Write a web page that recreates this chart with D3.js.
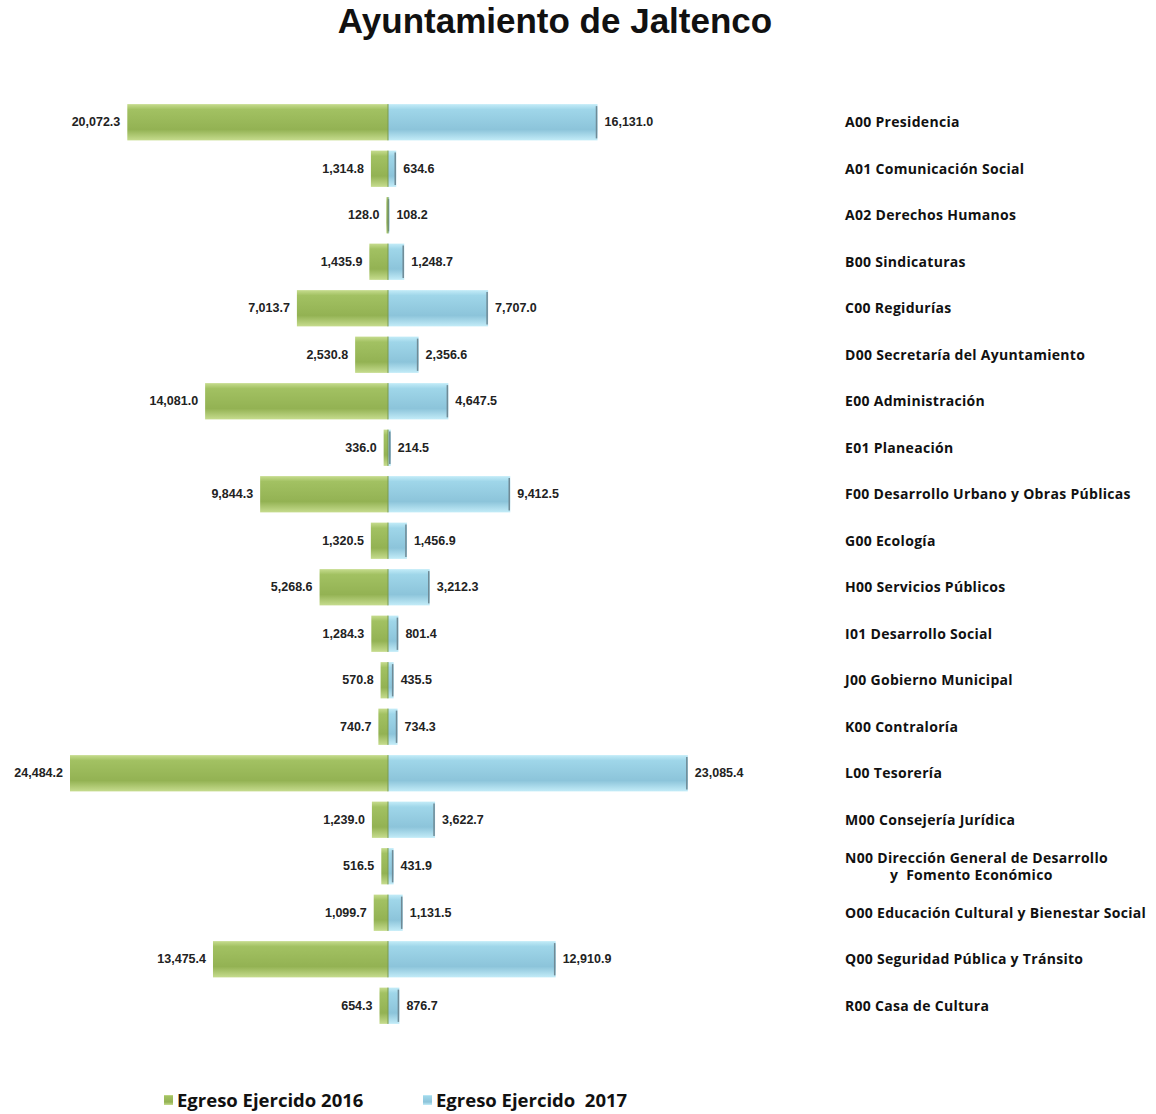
<!DOCTYPE html>
<html>
<head>
<meta charset="utf-8">
<script src="https://cdn.jsdelivr.net/npm/d3@7"></script>
<style>
  body { margin: 0; background: #fff; }
  svg { display: block; }
</style>
</head>
<body>
<div id="chart"></div>
<script>
// areas (second line only for the long N00 label)
var areas = [
  "A00 Presidencia", "A01 Comunicación Social", "A02 Derechos Humanos", "B00 Sindicaturas",
  "C00 Regidurías", "D00 Secretaría del Ayuntamiento", "E00 Administración", "E01 Planeación",
  "F00 Desarrollo Urbano y Obras Públicas", "G00 Ecología", "H00 Servicios Públicos",
  "I01 Desarrollo Social", "J00 Gobierno Municipal", "K00 Contraloría", "L00 Tesorería",
  "M00 Consejería Jurídica", "N00 Dirección General de Desarrollo|y  Fomento Económico",
  "O00 Educación Cultural y Bienestar Social", "Q00 Seguridad Pública y Tránsito", "R00 Casa de Cultura"
];
var egreso2016 = [20072.3, 1314.8, 128.0, 1435.9, 7013.7, 2530.8, 14081.0, 336.0, 9844.3, 1320.5,
  5268.6, 1284.3, 570.8, 740.7, 24484.2, 1239.0, 516.5, 1099.7, 13475.4, 654.3];
var egreso2017 = [16131.0, 634.6, 108.2, 1248.7, 7707.0, 2356.6, 4647.5, 214.5, 9412.5, 1456.9,
  3212.3, 801.4, 435.5, 734.3, 23085.4, 3622.7, 431.9, 1131.5, 12910.9, 876.7];
var seriesNames = ["Egreso Ejercido 2016", "Egreso Ejercido  2017"];

var W = 1156, H = 1114, cx = 388;
var svg = d3.select("#chart").append("svg").attr("width", W).attr("height", H);

var defs = svg.append("defs");
function grad(id, light, mid, dark) {
  var g = defs.append("linearGradient").attr("id", id)
    .attr("x1", "0%").attr("y1", "0%").attr("x2", "0%").attr("y2", "100%");
  g.append("stop").attr("offset", "0%").attr("stop-color", light);
  g.append("stop").attr("offset", "15%").attr("stop-color", mid);
  g.append("stop").attr("offset", "70%").attr("stop-color", dark);
  g.append("stop").attr("offset", "100%").attr("stop-color", light);
}
grad("gGreen", "#c6dc8e", "#a2c162", "#93b253");
grad("gBlue", "#c3ecf8", "#9fd6e9", "#8cc4da");

svg.append("text").attr("x", 555).attr("y", 33).attr("text-anchor", "middle")
  .style("font-family", "Liberation Sans, Arial, sans-serif").style("font-weight", "bold")
  .style("font-size", "35px").style("fill", "#111").text("Ayuntamiento de Jaltenco");

var y = d3.scaleBand().domain(areas).range([99, 1029]).paddingInner(0.22).paddingOuter(0.11);
var x = d3.scaleLinear().domain([0, 24484.2]).range([0, 318]);
var fmt = d3.format(",.1f");

var rows = svg.append("g").selectAll("g").data(areas).enter().append("g")
  .attr("transform", function(d) { return "translate(0," + y(d) + ")"; });

var bh = y.bandwidth();
rows.append("rect").attr("x", function(d, i) { return cx - x(egreso2016[i]); }).attr("y", 0)
  .attr("width", function(d, i) { return x(egreso2016[i]); }).attr("height", bh)
  .style("fill", "url(#gGreen)");
rows.append("rect").attr("x", cx).attr("y", 0)
  .attr("width", function(d, i) { return x(egreso2017[i]); }).attr("height", bh)
  .style("fill", "url(#gBlue)");
// thin end caps
rows.append("line").attr("x1", function(d, i) { return cx + x(egreso2017[i]) - 1; })
  .attr("x2", function(d, i) { return cx + x(egreso2017[i]) - 1; })
  .attr("y1", 2).attr("y2", bh - 2).style("stroke", "#6f8a96").style("stroke-width", 1.5);
rows.append("line").attr("x1", cx).attr("x2", cx).attr("y1", 0).attr("y2", bh)
  .style("stroke", "#7a9a50").style("stroke-width", 1);

var vfont = "Liberation Sans Narrow, Arial Narrow, sans-serif";
rows.append("text").attr("x", function(d, i) { return cx - x(egreso2016[i]) - 7; })
  .attr("y", bh / 2 + 4).attr("text-anchor", "end")
  .style("font-family", vfont).style("font-weight", "bold").style("font-size", "12.5px").style("fill", "#222")
  .text(function(d, i) { return fmt(egreso2016[i]); });
rows.append("text").attr("x", function(d, i) { return cx + x(egreso2017[i]) + 7; })
  .attr("y", bh / 2 + 4).attr("text-anchor", "start")
  .style("font-family", vfont).style("font-weight", "bold").style("font-size", "12.5px").style("fill", "#222")
  .text(function(d, i) { return fmt(egreso2017[i]); });

// category labels on the right
rows.each(function(d) {
  var parts = d.split("|");
  var t = d3.select(this).append("text").attr("xml:space", "preserve")
    .style("font-family", "Open Sans, Noto Sans, sans-serif").style("font-weight", "bold")
    .style("font-size", "14px").style("letter-spacing", "0.3px").style("fill", "#111");
  if (parts.length == 1) {
    t.append("tspan").attr("x", 845).attr("y", bh / 2 + 5).text(parts[0]);
  } else {
    t.append("tspan").attr("x", 845).attr("y", bh / 2 - 3).text(parts[0]);
    t.append("tspan").attr("x", 890).attr("y", bh / 2 + 14).text(parts[1]);
  }
});

// legend
var lg = svg.append("g").selectAll("g").data(seriesNames).enter().append("g")
  .attr("transform", function(d, i) { return "translate(" + (164 + i * 259) + ",1107)"; });
lg.append("rect").attr("x", 0).attr("y", -12).attr("width", 9).attr("height", 10)
  .style("fill", function(d, i) { return i == 0 ? "url(#gGreen)" : "url(#gBlue)"; });
lg.append("text").attr("x", 13).attr("y", 0).attr("xml:space", "preserve")
  .style("font-family", "Open Sans, Noto Sans, sans-serif").style("font-weight", "bold")
  .style("font-size", "18.5px").style("fill", "#111").text(function(d) { return d; });
</script>
</body>
</html>
